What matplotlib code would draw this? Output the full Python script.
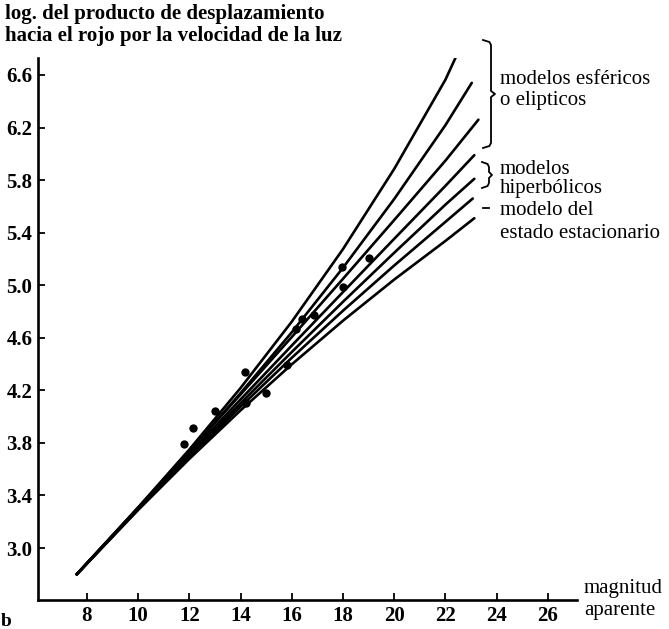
import matplotlib
matplotlib.use("Agg")
import matplotlib.pyplot as plt
from matplotlib.lines import Line2D

# ---------------- data ----------------
M_GRID = [7.6, 10, 12, 14, 16, 18, 20, 22]

# spherical / elliptic models
curve1_m = M_GRID + [22.44]
curve1_y = [2.80, 3.309, 3.750, 4.218, 4.723, 5.275, 5.885, 6.564, 6.75]
curve2_m = M_GRID + [23.03]
curve2_y = [2.80, 3.306, 3.735, 4.179, 4.642, 5.133, 5.656, 6.218, 6.54]
curve3_m = M_GRID + [23.29]
curve3_y = [2.80, 3.308, 3.736, 4.169, 4.606, 5.049, 5.496, 5.948, 6.26]
# hyperbolic models
curve4_m = M_GRID + [23.13]
curve4_y = [2.80, 3.302, 3.718, 4.131, 4.541, 4.948, 5.353, 5.756, 5.99]
curve5_m = M_GRID + [23.13]
curve5_y = [2.80, 3.298, 3.704, 4.102, 4.492, 4.874, 5.247, 5.613, 5.81]
curve6_m = M_GRID + [23.07]
curve6_y = [2.80, 3.295, 3.692, 4.076, 4.448, 4.806, 5.150, 5.482, 5.66]
# steady state model
curve7_m = M_GRID + [23.13]
curve7_y = [2.80, 3.290, 3.679, 4.048, 4.398, 4.730, 5.043, 5.337, 5.51]

CURVES_M = [curve1_m, curve2_m, curve3_m, curve4_m, curve5_m, curve6_m, curve7_m]
CURVES_Y = [curve1_y, curve2_y, curve3_y, curve4_y, curve5_y, curve6_y, curve7_y]

# observed galaxies
dots_m = [11.8, 12.15, 13.0, 14.17, 14.2, 15.0, 15.8, 16.15, 16.4, 16.85, 17.95, 18.0, 19.0]
dots_y = [3.79, 3.91, 4.04, 4.34, 4.10, 4.18, 4.39, 4.67, 4.74, 4.77, 5.14, 4.99, 5.21]

x_ticks = [8, 10, 12, 14, 16, 18, 20, 22, 24, 26]
y_ticks = [3.0, 3.4, 3.8, 4.2, 4.6, 5.0, 5.4, 5.8, 6.2, 6.6]
y_tick_labels = ["3.0", "3.4", "3.8", "4.2", "4.6", "5.0", "5.4", "5.8", "6.2", "6.6"]

title_lines = ["log. del producto de desplazamiento",
               "hacia el rojo por la velocidad de la luz"]
ann_spher = ["modelos esféricos", "o elipticos"]
ann_hyper = ["modelos", "hiperbólicos"]
ann_steady = ["modelo del", "estado estacionario"]
xlabel_lines = ["magnitud", "aparente"]

# ---------------- figure ----------------
W, H = 669, 629
fig = plt.figure(figsize=(W / 100, H / 100), dpi=100)
FONT = "Liberation Serif"
plt.rcParams["font.family"] = [FONT, "DejaVu Serif"]

def px(x, y):
    return x / W, 1 - y / H

ax_l, ax_r, ax_t, ax_b = 38, 577, 58, 600
ax = fig.add_axes([ax_l / W, 1 - ax_b / H, (ax_r - ax_l) / W, (ax_b - ax_t) / H])

# limits: 8 -> 87px, 25.6 px/unit ; 6.6 -> 75px, 3.0 -> 548px
xpu = 25.6
ypu = (548 - 75) / 3.6
ax.set_xlim(8 - (87 - ax_l) / xpu, 8 + (ax_r - 87) / xpu)
ax.set_ylim(3.0 - (ax_b - 548) / ypu, 6.6 + (75 - ax_t) / ypu)

for m, y in zip(CURVES_M, CURVES_Y):
    ax.plot(m, y, color="black", lw=1.9, solid_capstyle="round", solid_joinstyle="round")

ax.plot(dots_m, dots_y, "o", color="black", ms=6, mew=0)

for s in ["top", "right"]:
    ax.spines[s].set_visible(False)
for s in ["left", "bottom"]:
    ax.spines[s].set_linewidth(1.9)
    ax.spines[s].set_color("black")

ax.set_xticks(x_ticks)
ax.set_xticklabels([str(t) for t in x_ticks])
ax.set_yticks(y_ticks)
ax.set_yticklabels(y_tick_labels)
ax.tick_params(direction="in", length=5, width=1.3, colors="black", pad=4)
for lab in ax.get_xticklabels() + ax.get_yticklabels():
    lab.set_fontfamily(FONT)
    lab.set_fontsize(15)
    lab.set_fontweight("bold")
ax.patch.set_alpha(0)

# ---------------- texts ----------------
fig.text(*px(5, 14), title_lines[0], fontsize=15, fontweight="bold", va="center", ha="left")
fig.text(*px(5, 36), title_lines[1], fontsize=15, fontweight="bold", va="center", ha="left")

def two_lines(lines, x, y1, y2):
    fig.text(*px(x, y1), lines[0], fontsize=15, va="center", ha="left")
    fig.text(*px(x, y2), lines[1], fontsize=15, va="center", ha="left")

two_lines(ann_spher, 500, 80, 101)
two_lines(ann_hyper, 500, 169, 188)
two_lines(ann_steady, 500, 211, 233)
two_lines(xlabel_lines, 584, 589, 611)

fig.text(*px(1, 613), "b", fontsize=14, fontweight="bold", va="top", ha="left")

def brace(x0, y0, y1, depth=8, tip=4):
    ym = (y0 + y1) / 2
    xs = [x0, x0 + depth * 0.8, x0 + depth, x0 + depth, x0 + depth + tip,
          x0 + depth, x0 + depth, x0 + depth * 0.8, x0]
    ys = [y0, y0 + 2, y0 + 5, ym - 3, ym, ym + 3, y1 - 5, y1 - 2, y1]
    pts = [px(a, b) for a, b in zip(xs, ys)]
    fig.add_artist(Line2D([p[0] for p in pts], [p[1] for p in pts],
                          transform=fig.transFigure, color="black", lw=1.3))

brace(483, 40, 148)
brace(482, 162, 188, depth=7, tip=3)
d0, d1 = px(483, 208), px(489, 208)
fig.add_artist(Line2D([d0[0], d1[0]], [d0[1], d1[1]], transform=fig.transFigure,
                      color="black", lw=1.3))

fig.savefig("out.png", dpi=100)
